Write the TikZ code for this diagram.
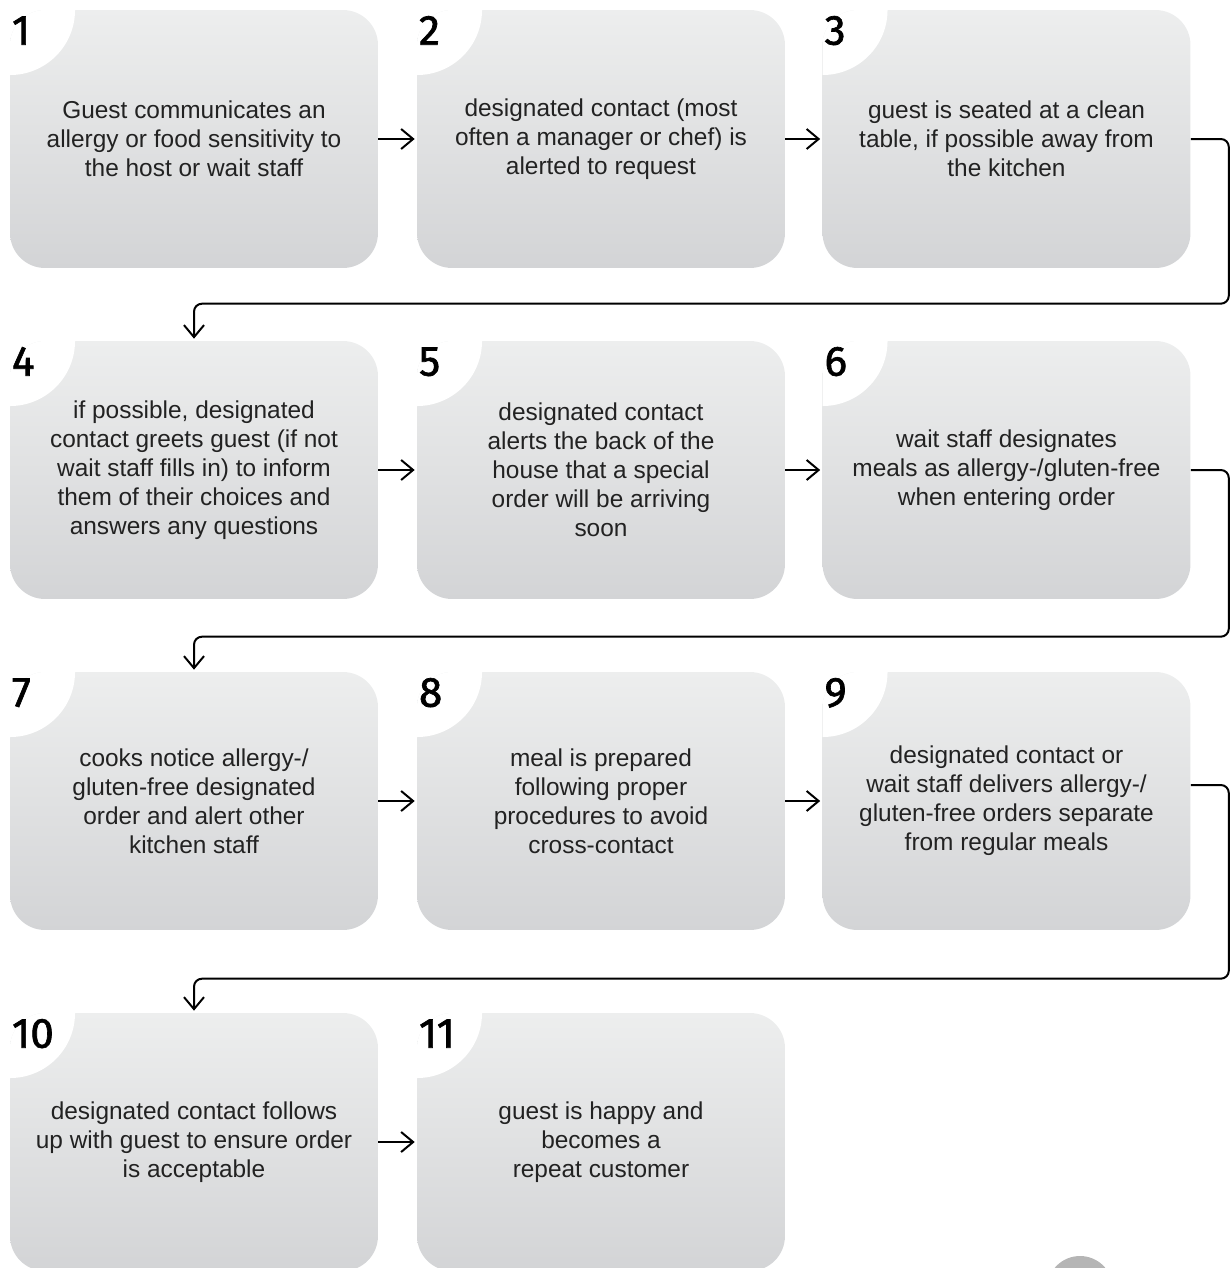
\documentclass[tikz,border=0pt]{standalone}
\usepackage{fontspec}
\setmainfont{Liberation Sans}
\newfontfamily\numfont[FakeBold=1.6]{Fira Sans}
\usetikzlibrary{arrows.meta}
\definecolor{boxtop}{RGB}{237,238,238}
\definecolor{boxbot}{RGB}{211,212,214}
\definecolor{steptext}{RGB}{34,34,34}
\definecolor{pagedot}{RGB}{181,181,181}
\tikzset{
  stepbox/.style={rectangle, rounded corners=0.7cm, minimum width=7.36cm, minimum height=5.16cm,
    inner sep=0pt, top color=boxtop, middle color=boxbot, bottom color=boxbot, align=center,
    text=steptext, font=\fontsize{13.9}{16.5}\selectfont,
    path picture={\fill[white] (path picture bounding box.north west) circle[radius=1.3cm];}},
  num/.style={anchor=base west, inner sep=0pt, font=\numfont\fontsize{24}{24}\selectfont},
  flow/.style={-{Straight Barb[length=0.24cm,width=0.4cm]}, line width=0.04cm, shorten >=0.04cm},
  wrap/.style={flow, rounded corners=0.16cm}
}
\begin{document}
\begin{tikzpicture}[x=0.02cm, y=-0.02cm]
\useasboundingbox (0,0) rectangle (1230,1268);
% the eleven steps
\node[stepbox] (b1) at (194,139) {Guest communicates an\\allergy or food sensitivity to\\the host or wait staff};
\node[stepbox] (b2) at (601,139) {designated contact (most\\often a manager or chef) is\\alerted to request};
\node[stepbox] (b3) at (1006.5,139) {guest is seated at a clean\\table, if possible away from\\the kitchen};
\node[stepbox] (b4) at (194,470) {if possible, designated\\contact greets guest (if not\\wait staff fills in) to inform\\them of their choices and\\answers any questions};
\node[stepbox] (b5) at (601,470) {designated contact\\alerts the back of the\\house that a special\\order will be arriving\\soon};
\node[stepbox] (b6) at (1006.5,470) {wait staff designates\\meals as allergy-/gluten-free\\when entering order};
\node[stepbox] (b7) at (194,801) {cooks notice allergy-/\\gluten-free designated\\order and alert other\\kitchen staff};
\node[stepbox] (b8) at (601,801) {meal is prepared\\following proper\\procedures to avoid\\cross-contact};
\node[stepbox] (b9) at (1006.5,801) {designated contact or\\wait staff delivers allergy-/\\gluten-free orders separate\\from regular meals};
\node[stepbox] (b10) at (194,1142) {designated contact follows\\up with guest to ensure order\\is acceptable};
\node[stepbox] (b11) at (601,1142) {guest is happy and\\becomes a\\repeat customer};
% numbers in the notches
\node[num] (n1) at ([shift={(0.04cm,-0.7cm)}]b1.north west) {1};
\node[num] (n2) at ([shift={(0.04cm,-0.7cm)}]b2.north west) {2};
\node[num] (n3) at ([shift={(0.04cm,-0.7cm)}]b3.north west) {3};
\node[num] (n4) at ([shift={(0.04cm,-0.7cm)}]b4.north west) {4};
\node[num] (n5) at ([shift={(0.04cm,-0.7cm)}]b5.north west) {5};
\node[num] (n6) at ([shift={(0.04cm,-0.7cm)}]b6.north west) {6};
\node[num] (n7) at ([shift={(0.04cm,-0.7cm)}]b7.north west) {7};
\node[num] (n8) at ([shift={(0.04cm,-0.7cm)}]b8.north west) {8};
\node[num] (n9) at ([shift={(0.04cm,-0.7cm)}]b9.north west) {9};
\node[num] (n10) at ([shift={(0.04cm,-0.7cm)}]b10.north west) {10};
\node[num] (n11) at ([shift={(0.04cm,-0.7cm)}]b11.north west) {11};
% arrows within a row
\draw[flow] (b1.east) -- (b2.west);
\draw[flow] (b2.east) -- (b3.west);
\draw[flow] (b4.east) -- (b5.west);
\draw[flow] (b5.east) -- (b6.west);
\draw[flow] (b7.east) -- (b8.west);
\draw[flow] (b8.east) -- (b9.west);
\draw[flow] (b10.east) -- (b11.west);
% arrows to the next row
\draw[wrap] (b3.east) -- ++(0.76cm,0) |- ([yshift=0.74cm]b4.north) -- (b4.north);
\draw[wrap] (b6.east) -- ++(0.76cm,0) |- ([yshift=0.70cm]b7.north) -- (b7.north);
\draw[wrap] ([yshift=0.32cm]b9.east) -- ++(0.76cm,0) |- ([yshift=0.68cm]b10.north) -- (b10.north);
% page mark
\fill[pagedot] (1080,1289) circle[radius=0.66cm];
\end{tikzpicture}
\end{document}
